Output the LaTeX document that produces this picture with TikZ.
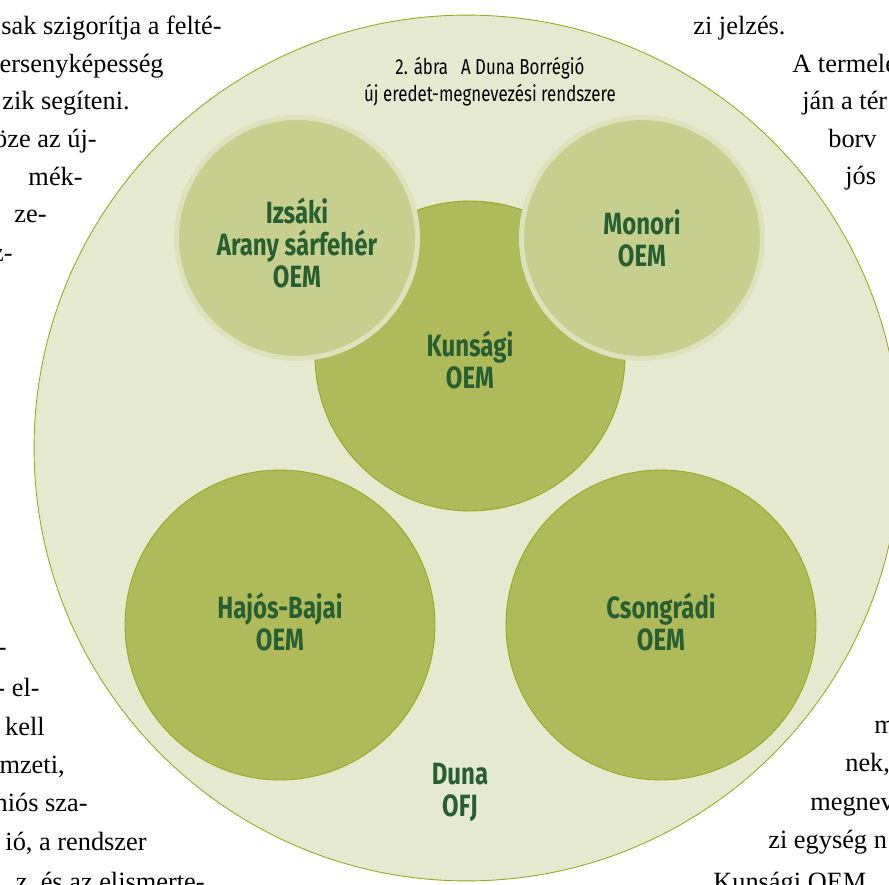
\documentclass[tikz,border=0pt]{standalone}
\usepackage{fontspec}
\setmainfont{Liberation Serif}
\newfontfamily\condsans[FakeStretch=0.78]{Fira Sans}
\usepackage{tikz}
\definecolor{outerbg}{RGB}{229,233,208}
\definecolor{midgreen}{RGB}{175,186,90}
\definecolor{lightgreen}{RGB}{199,207,143}
\definecolor{ringgreen}{RGB}{220,226,188}
\definecolor{edgegreen}{RGB}{150,170,30}
\definecolor{labelgreen}{RGB}{40,95,50}

\begin{document}
\begin{tikzpicture}[x=0.02cm,y=-0.02cm,
    region/.style={circle,inner sep=0pt,fill=midgreen,draw=edgegreen,line width=0.5pt,minimum size=6.2cm},
    subregion/.style={circle,inner sep=0pt,fill=lightgreen,draw=ringgreen,line width=0.1cm,minimum size=4.82cm},
    oemtext/.style={font=\condsans\bfseries\fontsize{17.5}{18.2}\selectfont,text=labelgreen,align=center},
    bodyl/.style={anchor=base east,inner sep=0pt,font=\fontsize{15}{18}\selectfont},
    bodyr/.style={anchor=base west,inner sep=0pt,font=\fontsize{15}{18}\selectfont}]
    \useasboundingbox (0,0) rectangle (889,885);
    %%% WINE REGION CIRCLES %%%
    % outer region %
    \node[circle,inner sep=0pt,fill=outerbg,draw=edgegreen,line width=0.5pt,minimum size=17.32cm] (duna) at (467,448){};
    \node[oemtext] (dunalbl) at (460,792){Duna\\OFJ};
    \node[align=center,font=\condsans\fontsize{12.3}{15.3}\selectfont] (title) at (490,82){2. ábra\hspace{0.6em}A Duna Borrégió\\új eredet-megnevezési rendszere};
    % inner regions %
    \node[region] (kunsag) at (470,356){};
    \node[oemtext] at (470,360){Kunsági\\OEM};
    \node[subregion] (izsak) at (297,238){};
    \node[oemtext] at (297,243){Izsáki\\Arany sárfehér\\OEM};
    \node[subregion] (monor) at (642,238){};
    \node[oemtext] at (642,238){Monori\\OEM};
    \node[region] (hajos) at (280,625){};
    \node[oemtext] at (280,622){Hajós-Bajai\\OEM};
    \node[region] (csongrad) at (661,625){};
    \node[oemtext] at (661,622){Csongrádi\\OEM};
    %%% RUNNING TEXT %%%
    % left column %
    \node[bodyl] at (222,35){sak szigorítja a felté-};
    \node[bodyl] at (164,73){ersenyképesség};
    \node[bodyl] at (130,110){zik segíteni.};
    \node[bodyl] at (97,148){öze az új-};
    \node[bodyl] at (83,186){mék-};
    \node[bodyl] at (47,223){ze-};
    \node[bodyl] at (13,261){z-};
    \node[bodyl] at (7,655){-};
    \node[bodyl] at (40,696){- el-};
    \node[bodyl] at (45,735){kell};
    \node[bodyl] at (65,773){mzeti,};
    \node[bodyl] at (88,811){niós sza-};
    \node[bodyl] at (147,850){ió, a rendszer};
    \node[bodyl] at (205,890){z, és az elismerte-};
    % right column %
    \node[bodyr] at (693,35){zi jelzés.};
    \node[bodyr] at (792,73){A termelés};
    \node[bodyr] at (802,110){ján a tér};
    \node[bodyr] at (828,148){borv};
    \node[bodyr] at (845,185){jós};
    \node[bodyr] at (874,733){m};
    \node[bodyr] at (845,771){nek,};
    \node[bodyr] at (810,810){megnev};
    \node[bodyr] at (768,848){zi egység n};
    \node[bodyr] at (713,890){Kunsági OEM};
\end{tikzpicture}
\end{document}
